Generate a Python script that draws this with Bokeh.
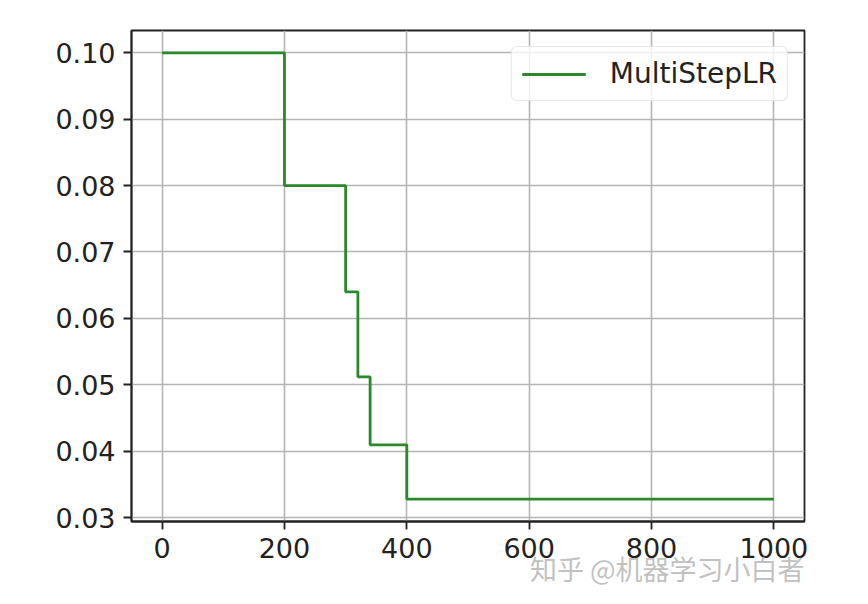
from bokeh.plotting import figure
from bokeh.models import Range1d, FixedTicker, Title, Legend, LegendItem, ColumnDataSource
from bokeh.embed import file_html
from bokeh.resources import INLINE

epochs = [0, 200, 300, 320, 340, 400, 1000]
lr = [0.1, 0.08, 0.064, 0.0512, 0.04096, 0.032768, 0.032768]
x_ticks = [0, 200, 400, 600, 800, 1000]
y_ticks = [0.03, 0.04, 0.05, 0.06, 0.07, 0.08, 0.09, 0.10]
y_labels = {0.03: "0.03", 0.04: "0.04", 0.05: "0.05", 0.06: "0.06",
            0.07: "0.07", 0.08: "0.08", 0.09: "0.09", 0.10: "0.10"}
series_name = "MultiStepLR"
watermark = "知乎 @机器学习小白者"

p = figure(width=860, height=598, output_backend="svg", toolbar_location=None,
           x_range=Range1d(-50, 1050), y_range=Range1d(0.029407, 0.10336),
           min_border_left=131, min_border_top=30, min_border_right=56, min_border_bottom=77)
p.background_fill_color = "white"
p.border_fill_color = "white"
p.outline_line_color = "#222222"
p.outline_line_width = 1.8

src = ColumnDataSource(dict(x=epochs, y=lr))
r = p.step("x", "y", source=src, mode="after", line_color="#2a8a2a", line_width=2.8)

for ax in (p.xaxis[0], p.yaxis[0]):
    ax.axis_line_color = "#222222"
    ax.axis_line_width = 1.8
    ax.major_tick_line_color = "#222222"
    ax.major_tick_line_width = 1.8
    ax.major_tick_out = 8
    ax.major_tick_in = 0
    ax.minor_tick_line_color = None
    ax.major_label_text_font = "DejaVu Sans"
    ax.major_label_text_font_size = "27px"
    ax.major_label_text_color = "#222222"
p.xaxis.major_label_standoff = 8
p.yaxis.major_label_standoff = 8

p.xaxis.ticker = FixedTicker(ticks=x_ticks)
p.yaxis.ticker = FixedTicker(ticks=y_ticks)
p.yaxis.major_label_overrides = y_labels

p.xgrid.ticker = FixedTicker(ticks=x_ticks)
p.ygrid.ticker = FixedTicker(ticks=y_ticks)
p.grid.grid_line_color = "#b4b4b4"
p.grid.grid_line_width = 1.6

legend = Legend(items=[LegendItem(label=series_name, renderers=[r])],
                location="top_right")
legend.label_text_font = "DejaVu Sans"
legend.label_text_font_size = "28px"
legend.label_text_color = "#222222"
legend.border_line_color = "#d0d0d0"
legend.border_line_width = 1.5
legend.border_radius = 6
legend.background_fill_alpha = 0.8
legend.glyph_width = 64
legend.glyph_height = 30
legend.label_standoff = 24
legend.padding = 10
legend.margin = 16
p.add_layout(legend)

wm = Title(text=watermark, align="right", text_font="Noto Sans CJK SC",
           text_font_size="27px", text_font_style="normal",
           text_color="#b0b0b0", text_alpha=0.8, standoff=-54)
p.add_layout(wm, "below")

open("out.html", "w").write(file_html(p, INLINE))
